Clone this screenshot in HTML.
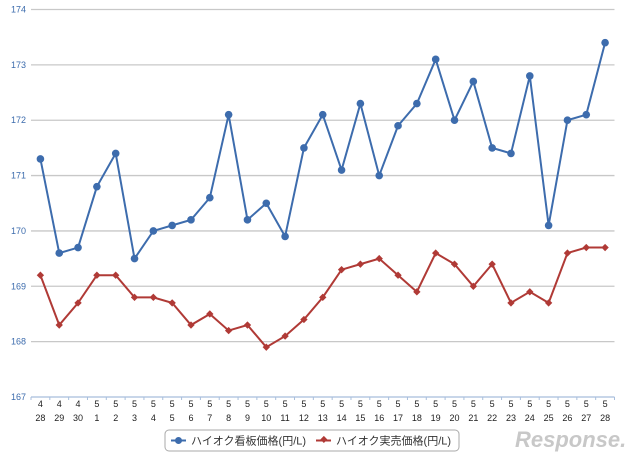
<!DOCTYPE html>
<html><head><meta charset="utf-8"><style>
body{margin:0;background:#fff;width:640px;height:459px;overflow:hidden}
svg{display:block}
text{font-family:"Liberation Sans","Noto Sans CJK JP",sans-serif}
</style></head><body>
<svg id="chart" width="640" height="459">
<g id="grid"></g>
<g id="yt"></g>
<g id="xt"></g>
<g id="s1"></g>
<g id="s2"></g>
<g>
<rect x="165" y="430" width="294" height="21" rx="4" fill="#fff" stroke="#aaa"/>
<g>
<line x1="171" y1="440.5" x2="186" y2="440.5" stroke="#3d6cad" stroke-width="2"/><circle cx="178.5" cy="440.5" r="3.5" fill="#3d6cad"/>
<text x="191" y="444.5" font-size="11" fill="#333">ハイオク看板価格(円/L)</text></g>
<g>
<line x1="316" y1="440.5" x2="331" y2="440.5" stroke="#b03a36" stroke-width="2"/><rect x="320.5" y="437" width="5" height="5" fill="#b03a36" transform="rotate(45 323.5 440.5)"/>
<text x="336" y="444.5" font-size="11" fill="#333">ハイオク実売価格(円/L)</text></g>
</g>
<text x="515" y="447" font-size="22" font-style="italic" fill="#c8c8c8" font-weight="bold">Response.</text>
</svg>
<script>
const months=[4,4,4,5,5,5,5,5,5,5,5,5,5,5,5,5,5,5,5,5,5,5,5,5,5,5,5,5,5,5,5];
const days=[28,29,30,1,2,3,4,5,6,7,8,9,10,11,12,13,14,15,16,17,18,19,20,21,22,23,24,25,26,27,28];
const kanban=[171.3,169.6,169.7,170.8,171.4,169.5,170.0,170.1,170.2,170.6,172.1,170.2,170.5,169.9,171.5,172.1,171.1,172.3,171.0,171.9,172.3,173.1,172.0,172.7,171.5,171.4,172.8,170.1,172.0,172.1,173.4];
const actual=[169.2,168.3,168.7,169.2,169.2,168.8,168.8,168.7,168.3,168.5,168.2,168.3,167.9,168.1,168.4,168.8,169.3,169.4,169.5,169.2,168.9,169.6,169.4,169.0,169.4,168.7,168.9,168.7,169.6,169.7,169.7];
const yTicks=[167,168,169,170,171,172,173,174];
const NS='http://www.w3.org/2000/svg';
const L=31,R=614.5,T=9.5,B=397,ymin=167,ymax=174;
const bw=(R-L)/days.length;
const x=i=>L+bw*(i+0.5);
const y=v=>B-(v-ymin)/(ymax-ymin)*(B-T);
function mk(tag,at,p){const e=document.createElementNS(NS,tag);for(const k in at)e.setAttribute(k,at[k]);p.appendChild(e);return e;}
const grid=document.getElementById('grid'),yt=document.getElementById('yt'),xt=document.getElementById('xt');
yTicks.forEach(v=>{
 if(v>ymin){const g=mk('line',{x1:L,x2:R,y1:y(v),y2:y(v),stroke:'#c8c8c8','stroke-width':1.3},grid);
 
 }
 const t=mk('text',{x:26,y:y(v)+3,'font-size':9,fill:'#3d6cad','text-anchor':'end'},yt);t.textContent=v;
 
 
});
mk('line',{x1:L,x2:R,y1:B,y2:B,stroke:'#a8bedc','stroke-width':1.3},xt);
for(let i=0;i<=days.length;i++)mk('line',{x1:L+bw*i,x2:L+bw*i,y1:B,y2:B+3,stroke:'#a8bedc'},xt);
days.forEach((d,i)=>{
 const t=mk('text',{x:x(i),y:407,'font-size':9,fill:'#222','text-anchor':'middle'},xt);t.textContent=months[i];
 
 
 const t2=mk('text',{x:x(i),y:421,'font-size':9,fill:'#222','text-anchor':'middle'},xt);t2.textContent=d;
 
 
});
function series(arr,gid,color,diamond){
 const g=document.getElementById(gid);
 mk('polyline',{points:arr.map((v,i)=>x(i)+','+y(v)).join(' '),fill:'none',stroke:color,'stroke-width':2},g);
 arr.forEach((v,i)=>{
  let m;
  if(diamond)m=mk('rect',{x:x(i)-2.6,y:y(v)-2.6,width:5.2,height:5.2,fill:color,transform:`rotate(45 ${x(i)} ${y(v)})`},g);
  else m=mk('circle',{cx:x(i),cy:y(v),r:3.8,fill:color},g);
  
  
 });
}
series(kanban,'s1','#3d6cad',false);
series(actual,'s2','#b03a36',true);
</script>
</body></html>
